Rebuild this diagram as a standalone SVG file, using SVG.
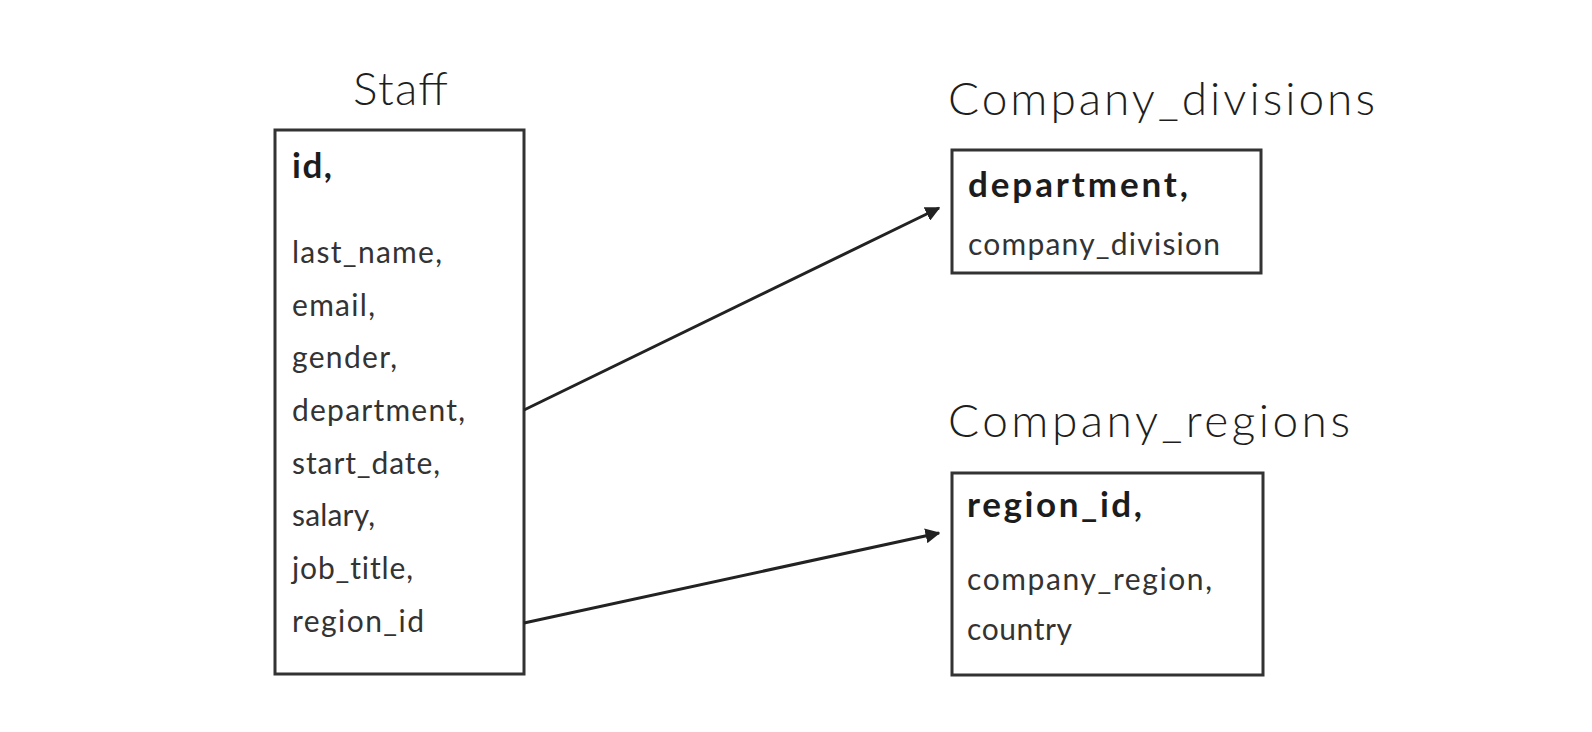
<svg xmlns="http://www.w3.org/2000/svg" width="1592" height="732" viewBox="0 0 1592 732">
<style>
.title{font-family:Lato,"Noto Sans",sans-serif;font-size:46px;font-weight:300;fill:#1e1e1e;}
.key{font-family:Lato,"Noto Sans",sans-serif;font-size:35px;font-weight:bold;fill:#1c1c1c;}
.fld{font-family:Lato,"Noto Sans",sans-serif;font-size:30px;fill:#333;font-variant-ligatures:none;}
.box{fill:#fff;stroke:#333;stroke-width:3;}
.conn{stroke:#222;stroke-width:3;fill:none;}
</style>
<defs>
<marker id="arr" viewBox="0 0 10 10" refX="9" refY="5" markerWidth="5" markerHeight="5" markerUnits="strokeWidth" orient="auto">
<path d="M0,0 L10,5 L0,10 z" fill="#222"/>
</marker>
</defs>
<rect width="1592" height="732" fill="#fff"/>
<g id="staff">
<text class="title" x="353" y="105" textLength="95" lengthAdjust="spacing">Staff</text>
<rect class="box" x="275" y="130" width="249" height="544"/>
<text class="key" x="292" y="178" textLength="40" lengthAdjust="spacing">id,</text>
<text class="fld" x="292" y="263" textLength="150" lengthAdjust="spacing">last_name,</text>
<text class="fld" x="292" y="315.5" textLength="83" lengthAdjust="spacing">email,</text>
<text class="fld" x="292" y="368" textLength="105" lengthAdjust="spacing">gender,</text>
<text class="fld" x="292" y="421" textLength="173" lengthAdjust="spacing">department,</text>
<text class="fld" x="292" y="473.5" textLength="148" lengthAdjust="spacing">start_date,</text>
<text class="fld" x="292" y="526" textLength="83" lengthAdjust="spacing">salary,</text>
<text class="fld" x="292" y="579" textLength="121" lengthAdjust="spacing">job_title,</text>
<text class="fld" x="292" y="631.5" textLength="132" lengthAdjust="spacing">region_id</text>
</g>
<g id="company_divisions">
<text class="title" x="948" y="115" textLength="427" lengthAdjust="spacing">Company_divisions</text>
<rect class="box" x="952" y="150" width="309" height="123"/>
<text class="key" x="968" y="197" textLength="220" lengthAdjust="spacing">department,</text>
<text class="fld" x="968" y="255" textLength="252" lengthAdjust="spacing">company_division</text>
</g>
<g id="company_regions">
<text class="title" x="948" y="437" textLength="402" lengthAdjust="spacing">Company_regions</text>
<rect class="box" x="952" y="473" width="311" height="202"/>
<text class="key" x="967" y="517" textLength="175" lengthAdjust="spacing">region_id,</text>
<text class="fld" x="967" y="590" textLength="245" lengthAdjust="spacing">company_region,</text>
<text class="fld" x="967" y="640" textLength="105" lengthAdjust="spacing">country</text>
</g>
<g id="connectors">
<line class="conn" x1="524" y1="410" x2="939" y2="208" marker-end="url(#arr)"/>
<line class="conn" x1="524" y1="623" x2="939" y2="533" marker-end="url(#arr)"/>
</g>
</svg>
